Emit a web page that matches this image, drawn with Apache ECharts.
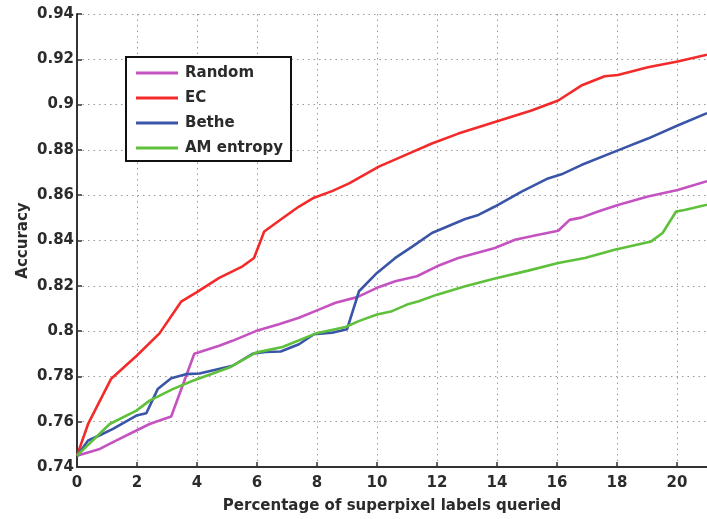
<!DOCTYPE html>
<html><head><meta charset="utf-8">
<script src="https://cdn.jsdelivr.net/npm/echarts@6/dist/echarts.min.js"></script>
<style>html,body{margin:0;padding:0;background:#fff}#c{width:707px;height:519px}</style>
</head><body><div id="c"></div>
<script>
const seriesNames = ['Random', 'EC', 'Bethe', 'AM entropy'];
const xTicks = [0, 2, 4, 6, 8, 10, 12, 14, 16, 18, 20];
const yTicks = [0.74, 0.76, 0.78, 0.8, 0.82, 0.84, 0.86, 0.88, 0.9, 0.92, 0.94];

const randomData = [[0,0.745],[0.76,0.748],[1.2,0.751],[1.98,0.7561],[2.42,0.759],[2.75,0.7605],[3.14,0.7623],[3.91,0.790],[4.74,0.7935],[5.18,0.7957],[5.96,0.800],[6.73,0.803],[7.4,0.8059],[8.06,0.8095],[8.62,0.8125],[9.34,0.815],[10.0,0.8191],[10.61,0.822],[11.33,0.8242],[12.0,0.8286],[12.71,0.8323],[13.93,0.8367],[14.6,0.8403],[15.26,0.8422],[16.04,0.8443],[16.42,0.8491],[16.81,0.8501],[17.37,0.8528],[18.03,0.8557],[19.03,0.8594],[20.02,0.8623],[21,0.8662]];
const ecData = [[0,0.745],[0.37,0.759],[1.14,0.779],[1.98,0.789],[2.75,0.799],[3.47,0.813],[3.97,0.817],[4.74,0.8235],[5.52,0.8286],[5.9,0.8323],[6.24,0.844],[6.85,0.8498],[7.4,0.855],[7.9,0.8589],[8.5,0.8618],[9.07,0.8652],[10.06,0.8726],[10.94,0.8777],[11.83,0.8828],[12.71,0.8872],[13.93,0.8923],[15.15,0.8974],[16.04,0.9018],[16.81,0.9084],[17.59,0.9125],[18.03,0.9131],[19.03,0.9165],[20.02,0.919],[21,0.922]];
const betheData = [[0,0.745],[0.37,0.7517],[0.76,0.754],[1.2,0.7568],[1.98,0.7627],[2.31,0.7637],[2.69,0.7744],[3.14,0.7792],[3.63,0.781],[4.08,0.7813],[5.19,0.7847],[5.85,0.790],[6.29,0.7908],[6.79,0.791],[7.4,0.7942],[7.9,0.7986],[8.5,0.7993],[9.0,0.8008],[9.4,0.8176],[10.0,0.8257],[10.61,0.8323],[11.2,0.8375],[11.83,0.8433],[12.94,0.8495],[13.38,0.8513],[13.93,0.855],[14.82,0.8616],[15.7,0.8674],[16.15,0.8692],[16.81,0.8733],[18.03,0.8798],[19.03,0.885],[20.02,0.8908],[21,0.8962]];
const amData = [[0,0.745],[1.09,0.759],[1.98,0.7649],[2.42,0.7693],[3.19,0.7744],[3.86,0.7781],[5.08,0.7839],[5.96,0.7905],[6.85,0.793],[7.95,0.7989],[8.95,0.8018],[9.39,0.8044],[10.0,0.8073],[10.5,0.8088],[11.0,0.8117],[11.39,0.8132],[12.0,0.8161],[12.94,0.8198],[13.93,0.8232],[15.04,0.8267],[16.04,0.8301],[16.93,0.8323],[17.92,0.8359],[19.14,0.8396],[19.52,0.8433],[19.97,0.8528],[20.25,0.8535],[21,0.8558]];

const colors = ['#c452c0', '#f42a2a', '#3a55a8', '#5fc03c'];
const allData = [randomData, ecData, betheData, amData];
const FONT = 'DejaVu Sans';
const TXT = '#2b2b2b';

const chart = echarts.init(document.getElementById('c'), null, {renderer: 'canvas'});
chart.setOption({
  animation: false,
  backgroundColor: '#fff',
  grid: {left: 77, right: -2, top: 14, bottom: 49, containLabel: false},
  legend: {
    orient: 'vertical', left: 126, top: 57,
    data: seriesNames,
    backgroundColor: '#fff', borderColor: '#111', borderWidth: 2, borderRadius: 0,
    padding: [8, 8, 5, 10],
    icon: 'rect', itemWidth: 42, itemHeight: 3, itemGap: 9,
    textStyle: {fontFamily: FONT, fontWeight: 'bold', fontSize: 15, color: TXT, lineHeight: 16, padding: [0, 0, 0, 2]}
  },
  xAxis: {
    type: 'value', min: 0, max: 21, interval: 2,
    name: 'Percentage of superpixel labels queried', nameLocation: 'middle', nameGap: 32, nameMoveOverlap: false,
    nameTextStyle: {fontFamily: FONT, fontWeight: 'bold', fontSize: 15, color: TXT},
    axisLine: {show: true, onZero: false, lineStyle: {color: '#333', width: 2}},
    axisTick: {show: true, inside: true, length: 5, lineStyle: {color: '#333', width: 1.5}},
    axisLabel: {fontFamily: FONT, fontWeight: 'bold', fontSize: 15, color: TXT, margin: 9, showMaxLabel: false,
      formatter: v => xTicks.indexOf(v) >= 0 ? String(v) : ''},
    splitLine: {show: true, lineStyle: {color: '#999', type: [1.5, 4], width: 1}}
  },
  yAxis: {
    type: 'value', min: 0.74, max: 0.94, interval: 0.02,
    name: 'Accuracy', nameLocation: 'middle', nameGap: 46, nameRotate: 90, nameMoveOverlap: false,
    nameTextStyle: {fontFamily: FONT, fontWeight: 'bold', fontSize: 15, color: TXT},
    axisLine: {show: true, onZero: false, lineStyle: {color: '#333', width: 2}},
    axisTick: {show: true, inside: true, length: 5, lineStyle: {color: '#333', width: 1.5}},
    axisLabel: {fontFamily: FONT, fontWeight: 'bold', fontSize: 15, color: TXT, margin: 3,
      formatter: v => { const t = yTicks.find(k => Math.abs(k - v) < 1e-6); return t === undefined ? '' : String(t); }},
    splitLine: {show: true, lineStyle: {color: '#999', type: [1.5, 4], width: 1}}
  },
  series: seriesNames.map((n, i) => ({
    name: n, type: 'line', data: allData[i], symbol: 'none', smooth: false,
    lineStyle: {color: colors[i], width: 2.6}, itemStyle: {color: colors[i]}, z: 3
  }))
});
</script></body></html>
